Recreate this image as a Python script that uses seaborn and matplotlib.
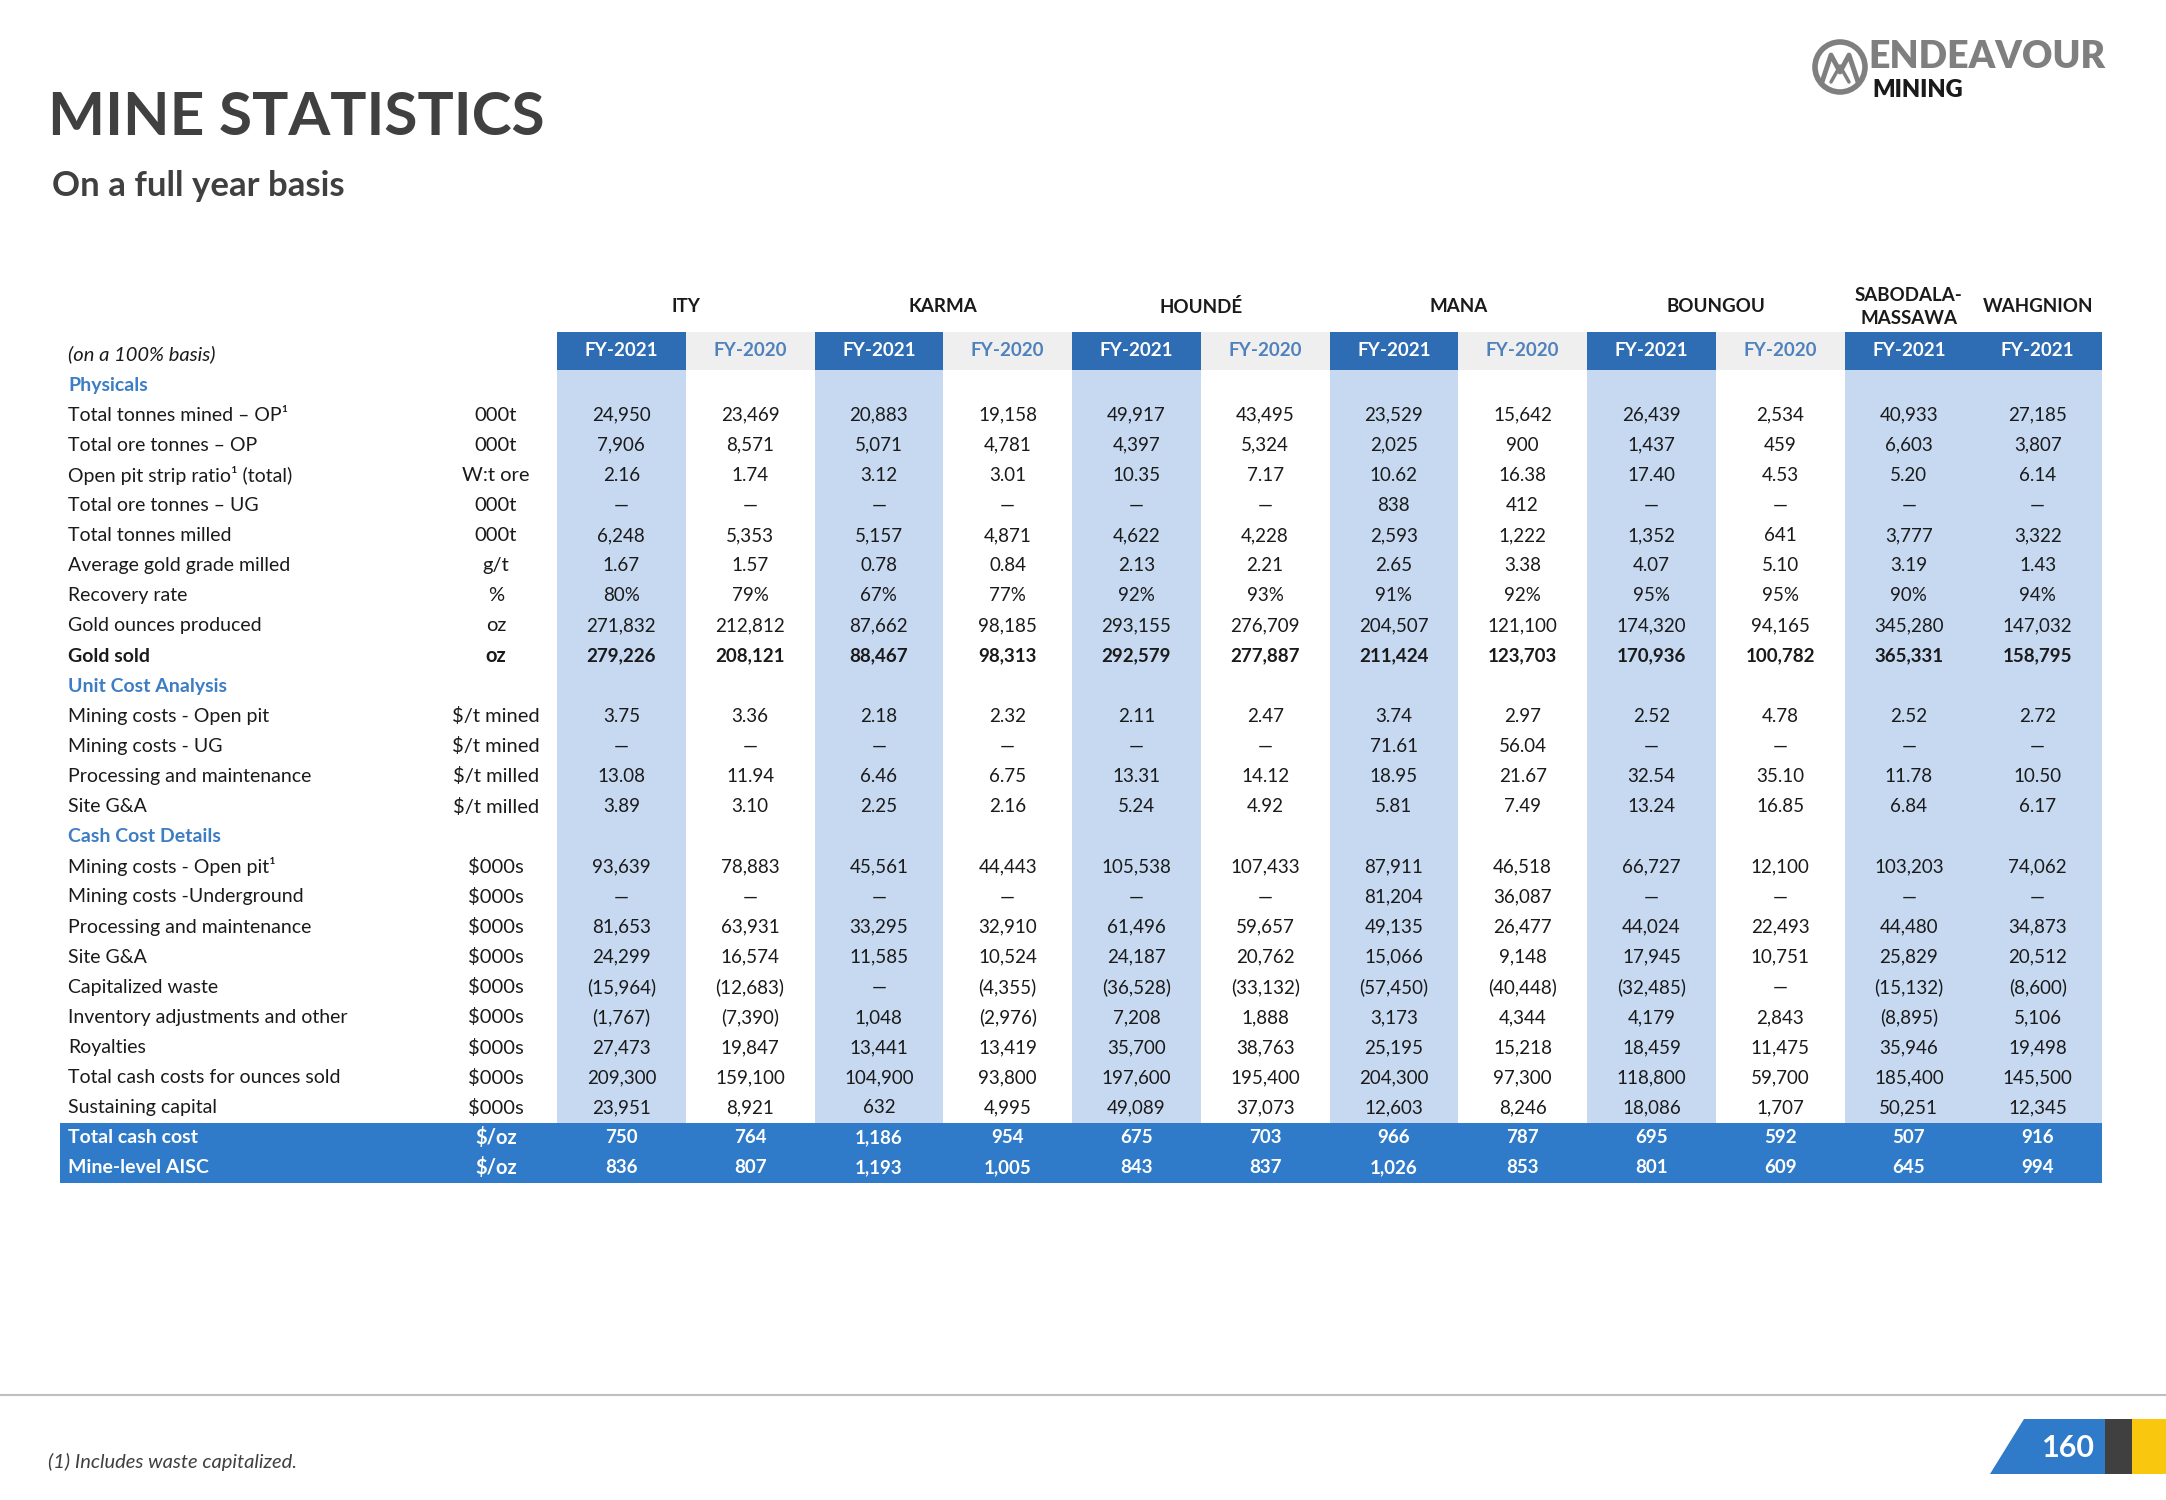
import numpy as np
import pandas as pd
import seaborn as sns
import matplotlib.pyplot as plt
from matplotlib.colors import ListedColormap
from matplotlib.patches import Rectangle, Polygon, Circle

# ---- data ----
col_mine = ["ITY", "ITY", "KARMA", "KARMA", "HOUNDÉ", "HOUNDÉ", "MANA", "MANA",
            "BOUNGOU", "BOUNGOU", "SABODALA-\nMASSAWA", "WAHGNION"]
col_year = ["FY-2021", "FY-2020"] * 5 + ["FY-2021", "FY-2021"]

row_labels = ["Physicals", "Total tonnes mined – OP¹", "Total ore tonnes – OP",
              "Open pit strip ratio¹ (total)", "Total ore tonnes – UG", "Total tonnes milled",
              "Average gold grade milled", "Recovery rate", "Gold ounces produced", "Gold sold",
              "Unit Cost Analysis", "Mining costs - Open pit", "Mining costs - UG",
              "Processing and maintenance", "Site G&A",
              "Cash Cost Details", "Mining costs - Open pit¹", "Mining costs -Underground",
              "Processing and maintenance", "Site G&A", "Capitalized waste",
              "Inventory adjustments and other", "Royalties", "Total cash costs for ounces sold",
              "Sustaining capital", "Total cash cost", "Mine-level AISC"]
row_units = ["", "000t", "000t", "W:t ore", "000t", "000t", "g/t", "%", "oz", "oz",
             "", "$/t mined", "$/t mined", "$/t milled", "$/t milled",
             "", "$000s", "$000s", "$000s", "$000s", "$000s", "$000s", "$000s", "$000s", "$000s",
             "$/oz", "$/oz"]
row_fmt = ["sec", "int", "int", "dec", "int", "int", "dec", "pct", "int", "int",
           "sec", "dec", "dec", "dec", "dec",
           "sec"] + ["int"] * 11

ity_2021 = [24950, 7906, 2.16, None, 6248, 1.67, 80, 271832, 279226,
            3.75, None, 13.08, 3.89,
            93639, None, 81653, 24299, -15964, -1767, 27473, 209300, 23951, 750, 836]
ity_2020 = [23469, 8571, 1.74, None, 5353, 1.57, 79, 212812, 208121,
            3.36, None, 11.94, 3.10,
            78883, None, 63931, 16574, -12683, -7390, 19847, 159100, 8921, 764, 807]
karma_2021 = [20883, 5071, 3.12, None, 5157, 0.78, 67, 87662, 88467,
              2.18, None, 6.46, 2.25,
              45561, None, 33295, 11585, None, 1048, 13441, 104900, 632, 1186, 1193]
karma_2020 = [19158, 4781, 3.01, None, 4871, 0.84, 77, 98185, 98313,
              2.32, None, 6.75, 2.16,
              44443, None, 32910, 10524, -4355, -2976, 13419, 93800, 4995, 954, 1005]
hounde_2021 = [49917, 4397, 10.35, None, 4622, 2.13, 92, 293155, 292579,
               2.11, None, 13.31, 5.24,
               105538, None, 61496, 24187, -36528, 7208, 35700, 197600, 49089, 675, 843]
hounde_2020 = [43495, 5324, 7.17, None, 4228, 2.21, 93, 276709, 277887,
               2.47, None, 14.12, 4.92,
               107433, None, 59657, 20762, -33132, 1888, 38763, 195400, 37073, 703, 837]
mana_2021 = [23529, 2025, 10.62, 838, 2593, 2.65, 91, 204507, 211424,
             3.74, 71.61, 18.95, 5.81,
             87911, 81204, 49135, 15066, -57450, 3173, 25195, 204300, 12603, 966, 1026]
mana_2020 = [15642, 900, 16.38, 412, 1222, 3.38, 92, 121100, 123703,
             2.97, 56.04, 21.67, 7.49,
             46518, 36087, 26477, 9148, -40448, 4344, 15218, 97300, 8246, 787, 853]
boungou_2021 = [26439, 1437, 17.40, None, 1352, 4.07, 95, 174320, 170936,
                2.52, None, 32.54, 13.24,
                66727, None, 44024, 17945, -32485, 4179, 18459, 118800, 18086, 695, 801]
boungou_2020 = [2534, 459, 4.53, None, 641, 5.10, 95, 94165, 100782,
                4.78, None, 35.10, 16.85,
                12100, None, 22493, 10751, None, 2843, 11475, 59700, 1707, 592, 609]
sabodala_2021 = [40933, 6603, 5.20, None, 3777, 3.19, 90, 345280, 365331,
                 2.52, None, 11.78, 6.84,
                 103203, None, 44480, 25829, -15132, -8895, 35946, 185400, 50251, 507, 645]
wahgnion_2021 = [27185, 3807, 6.14, None, 3322, 1.43, 94, 147032, 158795,
                 2.72, None, 10.50, 6.17,
                 74062, None, 34873, 20512, -8600, 5106, 19498, 145500, 12345, 916, 994]

columns = [ity_2021, ity_2020, karma_2021, karma_2020, hounde_2021, hounde_2020,
           mana_2021, mana_2020, boungou_2021, boungou_2020, sabodala_2021, wahgnion_2021]

# ---- style ----
DARK = "#2E6DB4"
BAND = "#2F7BC9"
LIGHT = "#C6D9F1"
GREY_HDR = "#F0EFEF"
SEC_BLUE = "#3C7DC4"
TXT = "#1A1A1A"
FS = 14


def fmt(v, kind):
    if v is None:
        return "—"
    if kind == "dec":
        return f"{v:.2f}"
    if kind == "pct":
        return f"{v:.0f}%"
    s = f"{abs(v):,.0f}"
    return f"({s})" if v < 0 else s


sns.set_theme(style="white")
plt.rcParams['font.family'] = ['Lato', 'DejaVu Sans']

W_PX, H_PX = 2166, 1500
fig = plt.figure(figsize=(21.66, 15), dpi=100)

# table grid geometry (pixels)
X0, X1 = 557, 2102
Y0, Y1 = 370, 1183
n_rows, n_cols = len(row_labels), len(columns)
cw = (X1 - X0) / n_cols
rh = (Y1 - Y0) / n_rows

# cell background via seaborn heatmap
codes = np.array([[1 if col_year[j] == "FY-2021" else 0 for j in range(n_cols)]
                  for i in range(n_rows)])
codes[row_labels.index("Total cash cost"):, :] = 2
codes_df = pd.DataFrame(codes, index=row_labels, columns=col_year)
gax = fig.add_axes([X0 / W_PX, 1 - Y1 / H_PX, (X1 - X0) / W_PX, (Y1 - Y0) / H_PX])
sns.heatmap(codes_df, cmap=ListedColormap(["white", LIGHT, BAND]), vmin=-0.5, vmax=2.5,
            cbar=False, ax=gax, xticklabels=False, yticklabels=False)
gax.axis('off')

# overlay axes in pixel coordinates
ax = fig.add_axes([0, 0, 1, 1], zorder=5)
ax.set_xlim(0, W_PX)
ax.set_ylim(H_PX, 0)
ax.axis('off')
ax.patch.set_alpha(0)

# title
ax.text(48, 135, "MINE STATISTICS", fontsize=43.5, fontweight='bold', color="#404040", va='baseline')
ax.text(52, 196, "On a full year basis", fontsize=25, fontweight='bold', color="#404040", va='baseline')

# logo
ax.add_patch(Circle((1840, 67), 25, fill=False, ec="#7F7F7F", lw=4))
ax.plot([1822, 1831, 1840, 1849, 1858], [82, 55, 72, 55, 82], color="#7F7F7F", lw=3.5)
ax.plot([1831, 1840, 1849], [82, 66, 82], color="#7F7F7F", lw=2.5)
ax.text(1868, 68, "ENDEAVOUR", fontsize=27, fontweight='heavy', color="#7F7F7F", va='baseline')
ax.text(1872, 97, "MINING", fontsize=17, fontweight='heavy', color="#1A1A1A", va='baseline')

# header cells
hy0, hy1 = 332, Y0
for j in range(n_cols):
    x = X0 + cw * j
    dark = col_year[j] == "FY-2021"
    ax.add_patch(Rectangle((x, hy0), cw, hy1 - hy0, fc=DARK if dark else GREY_HDR, ec='none'))
    ax.text(x + cw / 2, (hy0 + hy1) / 2, col_year[j], ha='center', va='center', fontsize=13.5,
            fontweight='bold', color='white' if dark else "#4F81BD")

# mine group titles
for m in dict.fromkeys(col_mine):
    idx = [j for j in range(n_cols) if col_mine[j] == m]
    cx = X0 + cw * (np.mean(idx) + 0.5)
    ax.text(cx, 307, m, ha='center', va='center', fontsize=13.5, fontweight='bold',
            color=TXT, linespacing=1.4)

ax.text(68, (hy0 + hy1) / 2 + 3, "(on a 100% basis)", fontsize=14.5, style='italic',
        color=TXT, va='center')

# left part of the total band
tot_i = row_labels.index("Total cash cost")
ax.add_patch(Rectangle((60, Y0 + rh * tot_i), X0 - 60, Y1 - (Y0 + rh * tot_i), fc=BAND, ec='none'))

# row labels, units and values
k = 0
for i, (lab, unit, kind) in enumerate(zip(row_labels, row_units, row_fmt)):
    y = Y0 + rh * (i + 0.5)
    if kind == "sec":
        ax.text(68, y, lab, fontsize=FS, fontweight='bold', color=SEC_BLUE, va='center')
        continue
    total = i >= tot_i
    bold = total or lab == "Gold sold"
    color = 'white' if total else TXT
    weight = 'bold' if bold else 'normal'
    ax.text(68, y, lab, fontsize=FS, fontweight=weight, color=color, va='center')
    ax.text(496, y, unit, fontsize=FS + 0.5, fontweight=weight, color=color, va='center', ha='center')
    for j, col in enumerate(columns):
        ax.text(X0 + cw * (j + 0.5), y, fmt(col[k], kind), fontsize=13.5, fontweight=weight,
                color=color, va='center', ha='center')
    k += 1

# footer
ax.plot([0, W_PX], [1395, 1395], color="#BFBFBF", lw=1.5)
ax.text(48, 1462, "(1) Includes waste capitalized.", fontsize=14.5, style='italic',
        color="#404040", va='center')
ax.add_patch(Polygon([(1990, 1474), (2024, 1419), (2105, 1419), (2105, 1474)], fc="#2F7BC9", ec='none'))
ax.add_patch(Rectangle((2105, 1419), 27, 55, fc="#404040", ec='none'))
ax.add_patch(Rectangle((2132, 1419), 34, 55, fc="#F9C80E", ec='none'))
ax.text(2068, 1448, "160", fontsize=22, fontweight='bold', color='white', ha='center', va='center')

fig.savefig("out.png", dpi=100, facecolor='white')
